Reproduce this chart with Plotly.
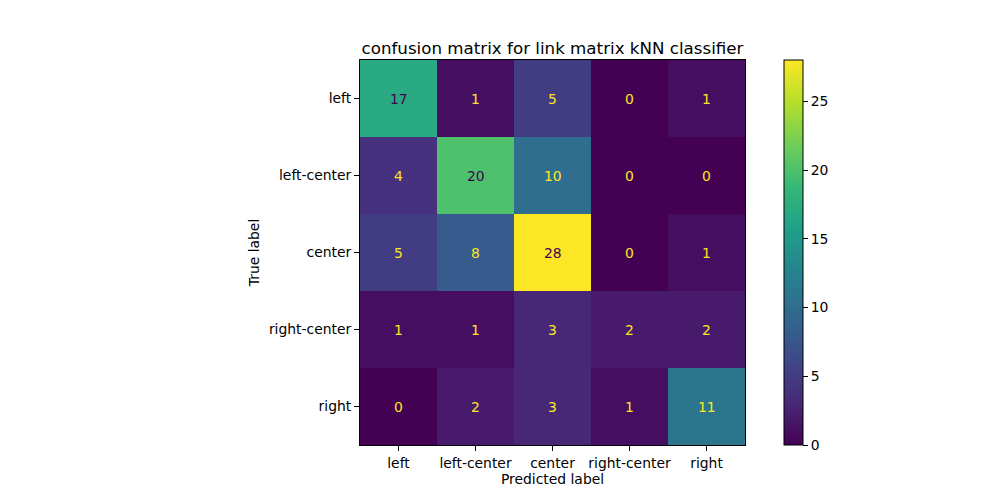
import plotly.graph_objects as go

labels = ["left", "left-center", "center", "right-center", "right"]
matrix = [
    [17, 1, 5, 0, 1],
    [4, 20, 10, 0, 0],
    [5, 8, 28, 0, 1],
    [1, 1, 3, 2, 2],
    [0, 2, 3, 1, 11],
]
cbar_ticks = [0, 5, 10, 15, 20, 25]

FONT = "DejaVu Sans"
vmin = min(min(r) for r in matrix)
vmax = max(max(r) for r in matrix)
thresh = (vmin + vmax) / 2.0

# page body margin of 8px is compensated in the domains below
fig = go.Figure()
fig.add_trace(go.Heatmap(
    z=matrix, x=labels, y=labels,
    colorscale="Viridis", zmin=vmin, zmax=vmax,
    xgap=0, ygap=0,
    hoverongaps=False,
    colorbar=dict(
        x=0.776, xanchor="left", y=0.126, yanchor="bottom",
        len=0.77, lenmode="fraction", thickness=19, thicknessmode="pixels",
        outlinecolor="black", outlinewidth=1,
        tickvals=cbar_ticks, ticks="outside", ticklen=5, tickcolor="black",
        tickfont=dict(family=FONT, size=13.9, color="black"),
        xpad=0, ypad=0,
    ),
))

annotations = []
for i, row in enumerate(matrix):
    for j, v in enumerate(row):
        annotations.append(dict(
            x=labels[j], y=labels[i], xref="x", yref="y", text=str(v),
            showarrow=False,
            font=dict(family=FONT, size=13.9, color="#440154" if v > thresh else "#fde725"),
        ))

fig.update_layout(
    width=1000, height=500,
    margin=dict(l=0, r=0, t=0, b=0),
    paper_bgcolor="white", plot_bgcolor="white",
    font=dict(family=FONT, size=13.9, color="black"),
    title=dict(text="confusion matrix for link matrix kNN classifier",
               x=0.5445, xanchor="center", y=0.908, yanchor="bottom",
               font=dict(family=FONT, size=16.7, color="black")),
    annotations=annotations,
    showlegend=False,
)
fig.update_xaxes(
    domain=[0.352, 0.737], showline=True, linecolor="black", linewidth=1, mirror=True,
    ticks="outside", ticklen=5, tickcolor="black", showgrid=False, zeroline=False,
    title=dict(text="Predicted label", font=dict(family=FONT, size=13.9), standoff=4),
    tickfont=dict(family=FONT, size=13.9),
)
fig.update_yaxes(
    domain=[0.126, 0.896], showline=True, linecolor="black", linewidth=1, mirror=True,
    ticks="outside", ticklen=5, tickcolor="black", showgrid=False, zeroline=False,
    autorange="reversed",
    title=dict(text="True label", font=dict(family=FONT, size=13.9), standoff=6),
    tickfont=dict(family=FONT, size=13.9),
)

fig.write_html("out.html")
